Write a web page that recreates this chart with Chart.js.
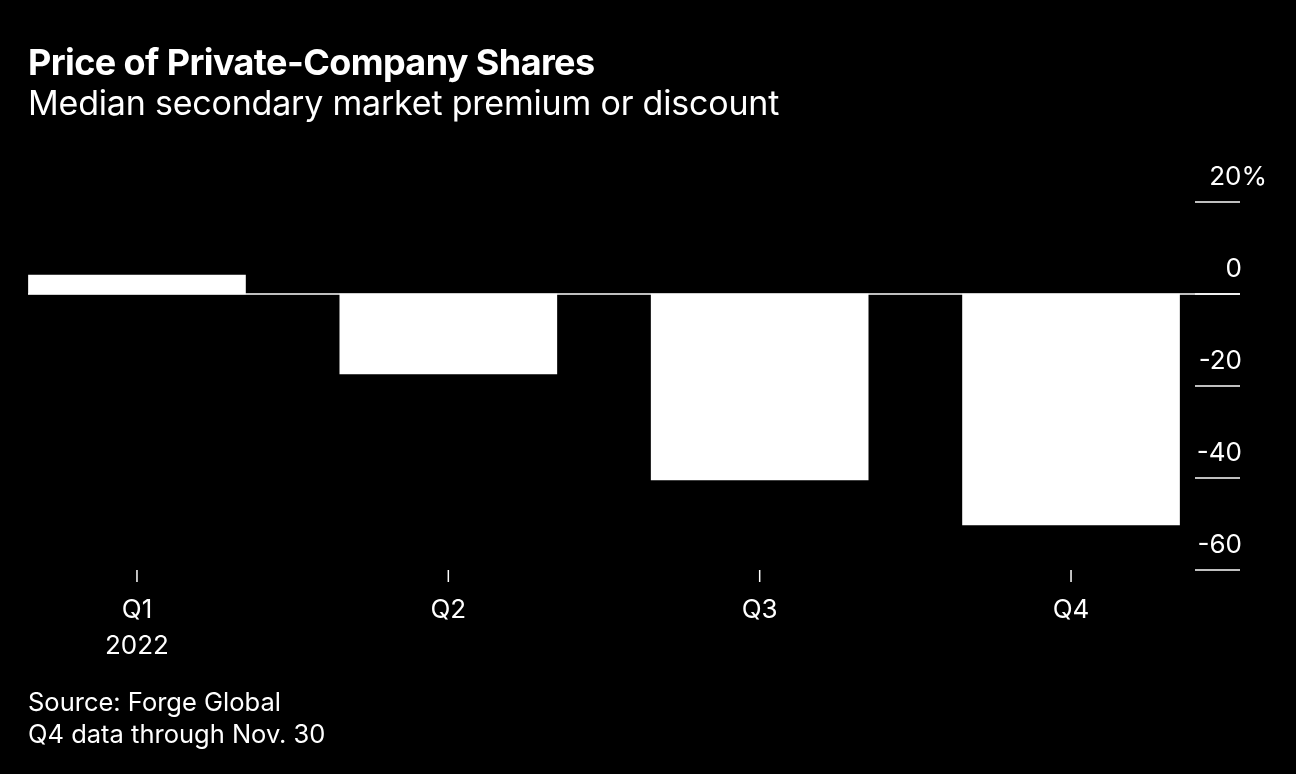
<!DOCTYPE html>
<html>
<head>
<meta charset="utf-8">
<script src="https://cdn.jsdelivr.net/npm/chart.js@4"></script>
<style>
  body { margin: 0; background: #000; width: 1296px; height: 774px; overflow: hidden; font-family: Inter, "Liberation Sans", sans-serif; color: #fff; }
  #wrap { position: absolute; left: 0; top: 0; width: 1296px; height: 774px; }
  .title { position: absolute; left: 28px; top: 40px; font-size: 36px; font-weight: 700; letter-spacing: -0.6px; }
  .sub { position: absolute; left: 28px; top: 82px; font-size: 34px; letter-spacing: -0.2px; }
  .src { position: absolute; left: 28px; top: 686px; font-size: 25.5px; line-height: 32px; }
</style>
</head>
<body>
<div id="wrap"><canvas id="myChart" width="1296" height="774"></canvas></div>
<div class="title">Price of Private-Company Shares</div>
<div class="sub">Median secondary market premium or discount</div>
<div class="src">Source: Forge Global<br>Q4 data through Nov. 30</div>
<script>
const quarters = ["Q1", "Q2", "Q3", "Q4"];
const yearLabels = ["2022", "", "", ""];
const premium = [4.1, -17.4, -40.4, -50.2];
const yTicks = [20, 0, -20, -40, -60];

const axisPlugin = {
	id: "axisPlugin",
	afterDraw(chart) {
		const ctx = chart.ctx;
		const xs = chart.scales.x;
		const ys = chart.scales.y;
		const area = chart.chartArea;
		ctx.save();
		ctx.strokeStyle = "#fff";
		ctx.fillStyle = "#fff";
		ctx.lineWidth = 1.5;
		// zero line
		const y0 = ys.getPixelForValue(0);
		ctx.beginPath();
		ctx.moveTo(area.left, y0);
		ctx.lineTo(1240, y0);
		ctx.stroke();
		// right axis
		ctx.font = "26px Inter, 'Liberation Sans', sans-serif";
		ctx.textAlign = "right";
		ctx.textBaseline = "bottom";
		yTicks.forEach((v) => {
			const y = ys.getPixelForValue(v);
			ctx.beginPath();
			ctx.moveTo(1195, y);
			ctx.lineTo(1240, y);
			ctx.stroke();
			ctx.fillText(v === 20 ? "20%" : String(v), v === 20 ? 1267 : 1242, y - 12);
		});
		// x axis
		ctx.textAlign = "center";
		ctx.textBaseline = "middle";
		quarters.forEach((q, i) => {
			const x = xs.getPixelForValue(i);
			ctx.beginPath();
			ctx.moveTo(x, area.bottom);
			ctx.lineTo(x, area.bottom + 12);
			ctx.stroke();
			ctx.fillText(q, x, 610);
			if (yearLabels[i]) ctx.fillText(yearLabels[i], x, 646);
		});
		ctx.restore();
	},
};

new Chart(document.getElementById("myChart").getContext("2d"), {
	type: "bar",
	data: {
		datasets: [
			{
				data: premium.map((v, i) => ({ x: i, y: v })),
				backgroundColor: "#fff",
				barThickness: 217,
			},
		],
	},
	options: {
		responsive: false,
		animation: false,
		devicePixelRatio: 1,
		layout: { padding: { left: 28, right: 116, top: 202, bottom: 204 } },
		plugins: { legend: { display: false }, tooltip: { enabled: false } },
		scales: {
			x: { type: "linear", min: -0.35, max: 3.35, offset: false, display: false },
			y: { min: -60, max: 20, display: false },
		},
	},
	plugins: [axisPlugin],
});
</script>
</body>
</html>
